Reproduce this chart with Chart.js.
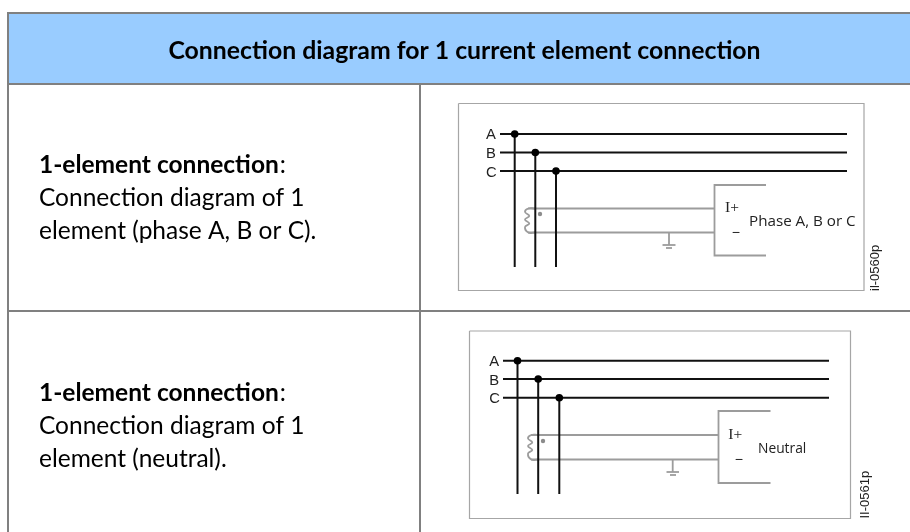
<!DOCTYPE html>
<html><head><meta charset="utf-8">
<style>html,body{margin:0;padding:0;background:#fff;overflow:hidden}#w{width:910px;height:532px;position:relative}</style>
<script src="https://cdn.jsdelivr.net/npm/chart.js@4"></script></head>
<body><div id="w"><canvas id="c"></canvas></div>
<script>
// Table frame
const headerBand = [[8,13],[910,13]];
const tableGrid = [
  [[8,12],[8,532]],[[420,84],[420,532]],
  [[7,13],[910,13]],[[7,84],[910,84]],[[7,311],[910,311]]
];
// Diagram 1
const d1Box = [[458.5,103.5],[864,103.5],[864,290.5],[458.5,290.5],[458.5,103.5]];
const d1Black = [
  [[500,134],[847,134]],[[500,152.5],[847,152.5]],[[500,171],[847,171]],
  [[514.7,134],[514.7,267]],[[535.3,152.5],[535.3,267]],[[556,171],[556,267]]
];
const d1Nodes = [[514.7,134],[535.3,152.5],[556,171]];
const d1Gray = [
  [[528,208.5],[714.5,208.5]],[[528,232.5],[714.5,232.5]],
  [[766,185],[714.5,185],[714.5,255.5],[766,255.5]],
  [[669,232.5],[669,245]],[[662.5,245],[675.5,245]],[[666,248],[672,248]]
];
const d1Coil = [[535,208.5],[528.3,208.5],[525,212],[529.3,216],[525,219.5],[529.3,223.5],[525,227],[528.3,232.5],[535,232.5]];
const d1Dot = [[540,214]];
// Diagram 2
const d2Box = [[469.5,331],[850.5,331],[850.5,518.5],[469.5,518.5],[469.5,331]];
const d2Black = [
  [[503,360.7],[829,360.7]],[[503,379],[829,379]],[[503,397.7],[829,397.7]],
  [[517.5,360.7],[517.5,494]],[[538.2,379],[538.2,494]],[[559.3,397.7],[559.3,494]]
];
const d2Nodes = [[517.5,360.7],[538.2,379],[559.3,397.7]];
const d2Gray = [
  [[531,435],[718.5,435]],[[531,459.5],[718.5,459.5]],
  [[770.5,411],[718.5,411],[718.5,483],[770.5,483]],
  [[672.7,459.5],[672.7,472]],[[666.5,472],[679,472]],[[670,475],[676,475]]
];
const d2Coil = [[538,435],[531.3,435],[528,438.5],[532.3,442.5],[528,446],[532.3,450],[528,453.5],[531.3,459.5],[538,459.5]];
const d2Dot = [[543,441]];
// Texts
const titleText = 'Connection diagram for 1 current element connection';
const boldLabel = '1-element connection';
const row1Lines = ['Connection diagram of 1','element (phase A, B or C).'];
const row2Lines = ['Connection diagram of 1','element (neutral).'];
const phaseLabels = ['A','B','C'];

const pts = a => a.map(p => ({x:p[0],y:p[1]}));
const line = (a,color,width,extra) => Object.assign({data:pts(a),showLine:true,borderColor:color,borderWidth:width,pointRadius:0,fill:false,tension:0},extra||{});
const dots = (a,color,r) => ({data:pts(a),showLine:false,pointRadius:r,pointBackgroundColor:color,pointBorderWidth:0});

const GRID='#808080', BOX='#a6a6a6', GRAY='#9c9c9c', BLACK='#111111';
const datasets = [
  dots(d1Nodes,'#000',3.8),dots(d2Nodes,'#000',3.8),
  ...d1Black.map(a=>line(a,BLACK,2)),...d2Black.map(a=>line(a,BLACK,2)),
  dots(d1Dot,'#8c8c8c',2.2),dots(d2Dot,'#8c8c8c',2.2),
  ...d1Gray.map(a=>line(a,GRAY,1.8)),...d2Gray.map(a=>line(a,GRAY,1.8)),
  line(d1Coil,GRAY,1.8,{tension:0.45}),line(d2Coil,GRAY,1.8,{tension:0.45}),
  line(d1Box,BOX,1.2),line(d2Box,BOX,1.2),
  ...tableGrid.map(a=>line(a,GRID,2)),
  line(headerBand,'#99ccff',0,{fill:{target:{value:84}},backgroundColor:'#99ccff'})
];

const textPlugin = {id:'texts',afterDatasetsDraw(chart){
  const c=chart.ctx, sx=chart.scales.x, sy=chart.scales.y;
  const put=(t,x,y,font,align,color)=>{c.font=font;c.textAlign=align||'left';c.textBaseline='alphabetic';c.fillStyle=color||'#000';c.fillText(t,sx.getPixelForValue(x),sy.getPixelForValue(y));};
  c.save();
  const B='bold 24.5px Lato', R='24.5px Lato', S='#222';
  put(titleText,464.5,58.5,'bold 24.8px Lato','center');
  [[173,row1Lines],[400.5,row2Lines]].forEach(([y,ls])=>{
    put(boldLabel,39,y,B);
    const w=c.measureText(boldLabel).width;
    put(':',39+w+1,y,R);
    ls.forEach((l,i)=>put(l,39,y+33*(i+1),R));
  });
  const F='14.8px "Liberation Sans"';
  [[486,[139.3,158,176.7]],[489.3,[366,385,403.3]]].forEach(([x,ys])=>phaseLabels.forEach((l,i)=>put(l,x,ys[i],F,'left',S)));
  put('I+',725,212.3,'15.5px "Liberation Serif"','left',S);
  put('I+',728.3,439,'15.5px "Liberation Serif"','left',S);
  put('\u2212',731.8,237.3,'14px "Liberation Sans"','left',S);
  put('\u2212',734.8,464,'14px "Liberation Sans"','left',S);
  put('Phase A, B or C',749,226,'15.2px "Open Sans"','left',S);
  put('Neutral',758,452.7,'13.8px "Open Sans"','left',S);
  const vert=(t,x,y)=>{c.save();c.translate(sx.getPixelForValue(x),sy.getPixelForValue(y));c.rotate(-Math.PI/2);c.font='13px "Liberation Sans"';c.textAlign='left';c.fillStyle=S;c.fillText(t,0,0);c.restore();};
  vert('il-0560p',879,291);
  vert('II-0561p',868.5,518.5);
  c.restore();
}};

new Chart(document.getElementById('c'),{type:'scatter',data:{datasets},plugins:[textPlugin],options:{
  responsive:true,maintainAspectRatio:false,animation:false,
  layout:{padding:0,autoPadding:false},
  plugins:{legend:{display:false},tooltip:{enabled:false}},
  scales:{
    x:{type:'linear',min:0,max:910,display:false},
    y:{type:'linear',min:0,max:532,reverse:true,display:false}
  }
}});
</script></body></html>
